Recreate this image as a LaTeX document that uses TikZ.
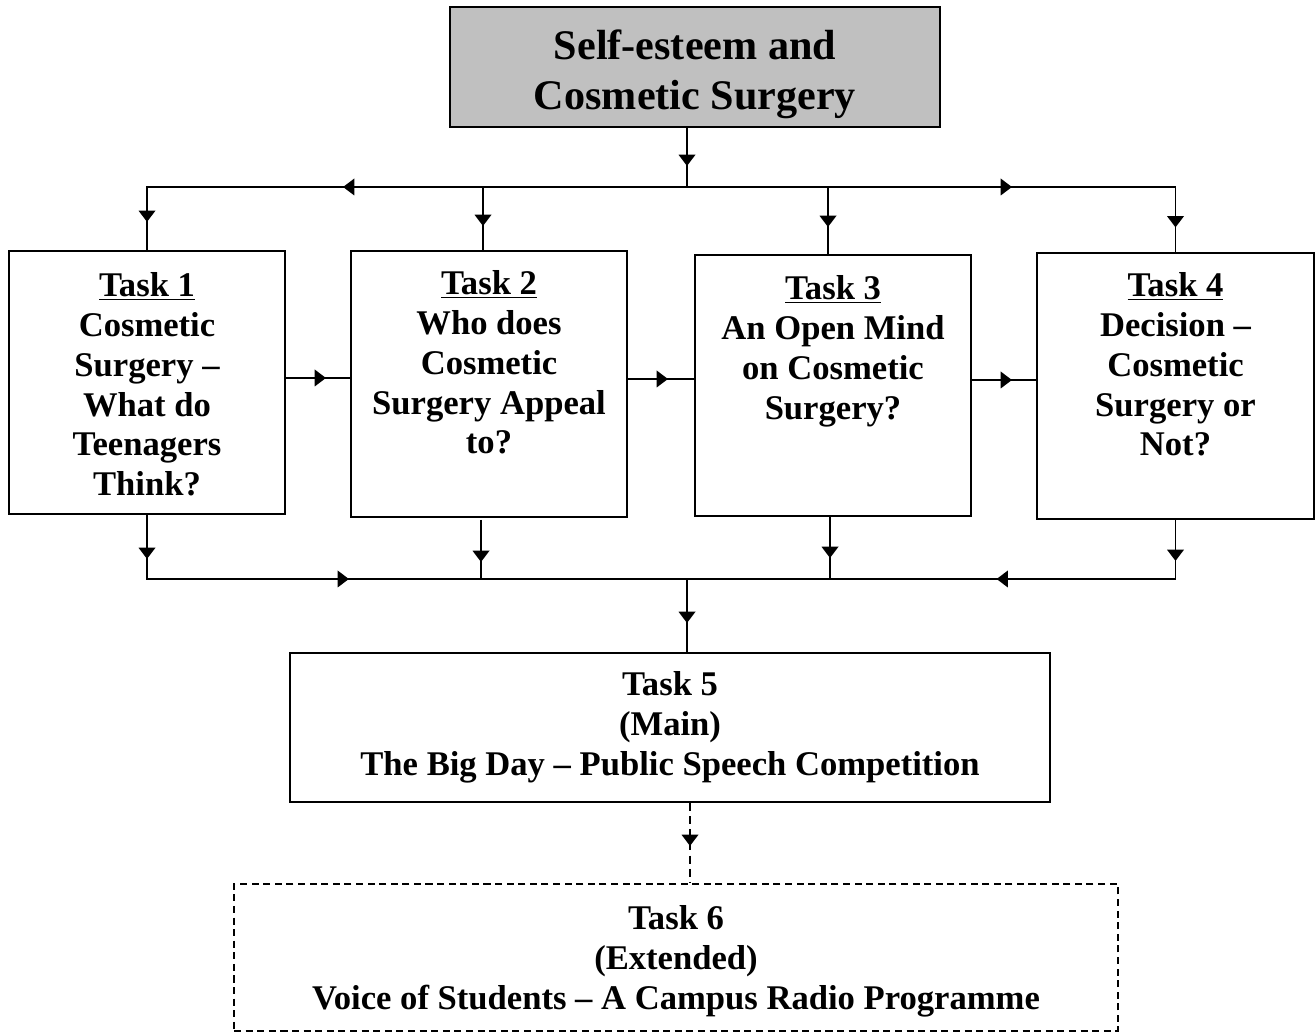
\documentclass[tikz,border=0pt]{standalone}
\usepackage{fontspec}
\setmainfont{Liberation Serif}
\usetikzlibrary{arrows.meta,decorations.markings}
\definecolor{titlegray}{RGB}{192,192,192}
\tikzset{
  box/.style={draw, line width=1.1pt, inner sep=0pt},
  txt/.style={align=center, inner sep=0pt, font=\bfseries\fontsize{19.7}{22.7}\selectfont},
  conn/.style={line width=1.1pt},
  midarrow/.style={postaction={decorate,decoration={markings,
      mark=at position #1 with {\arrow{Triangle[length=6.4pt,width=9.4pt]}}}}},
}
\begin{document}
\begin{tikzpicture}[x=0.02cm,y=-0.02cm]
\useasboundingbox (0,0) rectangle (1316,1033);
% title
\node[box, fill=titlegray, minimum width=9.8cm, minimum height=2.4cm] (top) at (695,67) {};
\node[align=center, inner sep=0pt, font=\bfseries\fontsize{24}{28.3}\selectfont] (toptxt)
  at ([yshift=-0.14cm]top.center) {Self-esteem and\\Cosmetic Surgery};
% task boxes
\node[box, minimum width=5.52cm, minimum height=5.26cm] (t1) at (147,382.5) {};
\node[box, minimum width=5.52cm, minimum height=5.32cm] (t2) at (489,384) {};
\node[box, minimum width=5.52cm, minimum height=5.22cm] (t3) at (833,385.5) {};
\node[box, minimum width=5.54cm, minimum height=5.32cm] (t4) at (1175.5,386) {};
\node[txt, anchor=north] (t1t) at ([yshift=-0.44cm]t1.north)
  {\underline{Task 1}\\Cosmetic\\Surgery –\\What do\\Teenagers\\Think?};
\node[txt, anchor=north] (t2t) at ([yshift=-0.40cm]t2.north)
  {\underline{Task 2}\\Who does\\Cosmetic\\Surgery Appeal\\to?};
\node[txt, anchor=north] (t3t) at ([yshift=-0.42cm]t3.north)
  {\underline{Task 3}\\An Open Mind\\on Cosmetic\\Surgery?};
\node[txt, anchor=north] (t4t) at ([yshift=-0.40cm]t4.north)
  {\underline{Task 4}\\Decision –\\Cosmetic\\Surgery or\\Not?};
% task 5 and 6
\node[box, txt, minimum width=15.2cm, minimum height=2.98cm] (t5) at (670,727.5)
  {Task 5\\(Main)\\The Big Day – Public Speech Competition};
\node[box, dash pattern=on 4pt off 2.6pt, minimum width=17.68cm, minimum height=2.94cm] (t6) at (676,957.5) {};
\node[txt] (t6t) at ([yshift=-0.08cm]t6.center)
  {Task 6\\(Extended)\\Voice of Students – A Campus Radio Programme};
% junctions
\coordinate (J1) at (687,187);
\coordinate (J2) at (687,579);
\coordinate (c2) at (483,187);
\coordinate (c3) at (828,187);
\coordinate (b2) at (481,520);
\coordinate (b3) at (830,516);
\coordinate (dx) at (690,840);
% top connectors
\draw[conn, midarrow=0.76cm] (top.south -| J1) -- (J1);
\draw[conn, midarrow=6.88cm, midarrow=11.5cm] (J1) -| (t1.north);
\draw[conn, midarrow=6.5cm, midarrow=10.58cm] (J1) -| (t4.north);
\draw[conn, midarrow=0.78cm] (c2) -- (c2 |- t2.north);
\draw[conn, midarrow=0.8cm] (c3) -- (c3 |- t3.north);
% between tasks
\draw[conn, midarrow=0.8cm] ([yshift=0.09cm]t1.east) -- ([yshift=0.09cm]t1.east -| t2.west);
\draw[conn, midarrow=0.8cm] ([yshift=0.1cm]t2.east) -- ([yshift=0.1cm]t2.east -| t3.west);
\draw[conn, midarrow=0.8cm] ([yshift=0.11cm]t3.east) -- ([yshift=0.11cm]t3.east -| t4.west);
% bottom connectors
\draw[conn, midarrow=0.88cm, midarrow=5.32cm] (t1.south) |- (J2);
\draw[conn, midarrow=0.82cm, midarrow=4.76cm] (t4.south) |- (J2);
\draw[conn, midarrow=0.84cm] (b2) -- (b2 |- J2);
\draw[conn, midarrow=0.84cm] (b3) -- (b3 |- J2);
\draw[conn, midarrow=0.88cm] (J2) -- (J2 |- t5.north);
\draw[conn, dash pattern=on 4.5pt off 3pt, midarrow=0.86cm] (dx |- t5.south) -- (dx |- t6.north);
\end{tikzpicture}
\end{document}
